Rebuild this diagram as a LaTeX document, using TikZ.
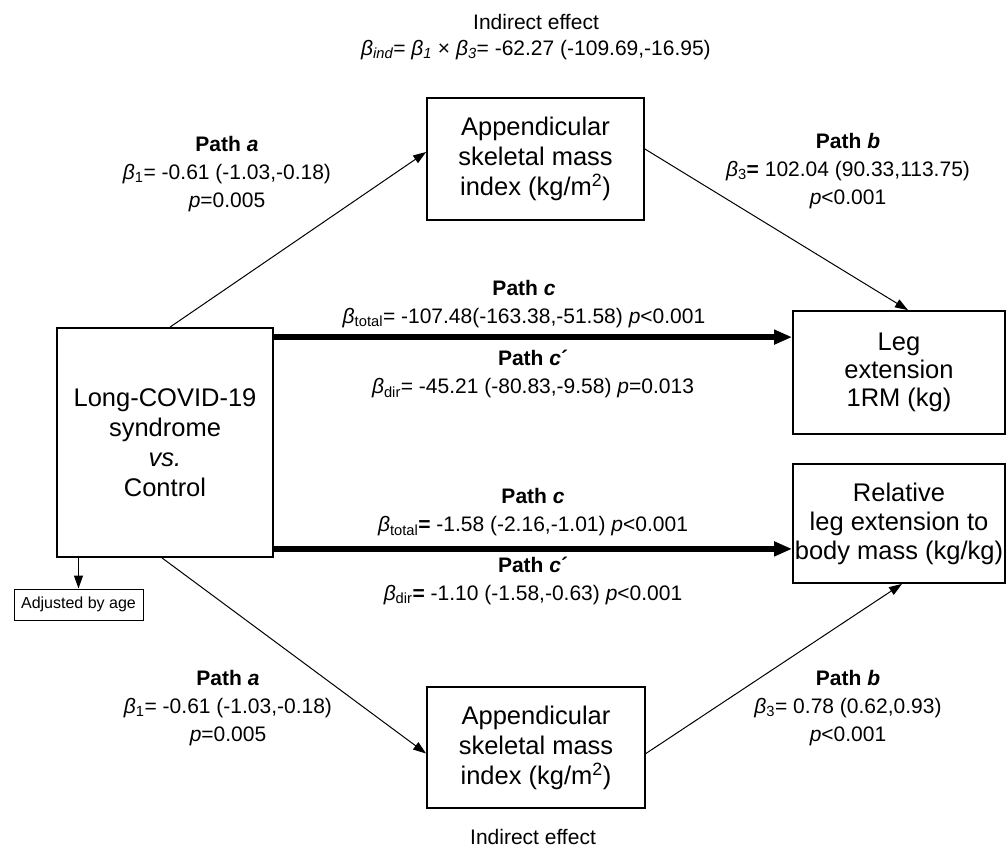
\documentclass[tikz,border=0pt]{standalone}
\usepackage{fontspec}
\setmainfont{Liberation Sans}
\usetikzlibrary{arrows.meta,calc}
\newcommand\bxfont{\fontsize{25.5}{30}\selectfont}
\newcommand\lbfont{\fontsize{21}{28}\selectfont}
\newcommand\ttlfont{\fontsize{21}{26}\selectfont}
\newcommand\smfont{\fontsize{16}{18}\selectfont}
\newcommand\bt{\textit{β}}
\begin{document}
\begin{tikzpicture}[x=1pt,y=-1pt,
  box/.style={draw, line width=1.8pt, fill=white, align=center, inner sep=0pt, font=\bxfont},
  lbl/.style={align=center, inner sep=0pt, font=\lbfont},
  conn/.style={-{Triangle[length=13pt,width=9pt]}, line width=1pt},
  bigarrow/.style={-{Triangle[length=18pt,width=14pt]}, line width=5.5pt}]
\useasboundingbox (0,0) rectangle (1008,849);

% boxes
\node[box, minimum width=217pt, minimum height=122pt] (asmiT) at (535.5,159) {Appendicular\\skeletal mass\\index (kg/m\textsuperscript{2})};
\node[box, minimum width=218pt, minimum height=121pt] (asmiB) at (536,747.5) {Appendicular\\skeletal mass\\index (kg/m\textsuperscript{2})};
\node[box, minimum width=216pt, minimum height=229pt] (left) at (165,442.5) {Long-COVID-19\\syndrome\\\textit{vs.}\\Control};
\node[box, minimum width=212pt, minimum height=123pt, font=\fontsize{25.5}{28}\selectfont] (leg) at (899,372.5) {Leg\\extension\\1RM (kg)};
\node[box, minimum width=212pt, minimum height=119pt, font=\fontsize{25.5}{29}\selectfont] (rel) at (899,523.5) {Relative\\leg extension to\\body mass (kg/kg)};
\node[draw, line width=1pt, inner sep=0pt, minimum width=129pt, minimum height=31pt, font=\smfont] (adj) at (78.5,604.5) {Adjusted by age};

% labels
\node[lbl, font=\ttlfont] (title) at (536,37) {Indirect effect\\\textit{β\textsubscript{ind}}= \textit{β\textsubscript{1}} × \textit{β\textsubscript{3}}= -62.27 (-109.69,-16.95)};
\node[lbl] (pathaT) at (227,174) {\textbf{Path \textit{a}}\\\bt\textsubscript{1}= -0.61 (-1.03,-0.18)\\\textit{p}=0.005};
\node[lbl] (pathbT) at (848,171) {\textbf{Path \textit{b}}\\\bt\textsubscript{3}\textbf{=} 102.04 (90.33,113.75)\\\textit{p}<0.001};
\node[lbl] (pc1) at (524,304) {\textbf{Path \textit{c}}\\\bt\textsubscript{total}= -107.48(-163.38,-51.58) \textit{p}<0.001};
\node[lbl] (pcp1) at (533,374) {\textbf{Path \textit{c}´}\\\bt\textsubscript{dir}= -45.21 (-80.83,-9.58) \textit{p}=0.013};
\node[lbl] (pc2) at (533,512.5) {\textbf{Path \textit{c}}\\\bt\textsubscript{total}\textbf{=} -1.58 (-2.16,-1.01) \textit{p}<0.001};
\node[lbl] (pcp2) at (533,580.5) {\textbf{Path \textit{c}´}\\\bt\textsubscript{dir}\textbf{=} -1.10 (-1.58,-0.63) \textit{p}<0.001};
\node[lbl] (pathaB) at (228,708) {\textbf{Path \textit{a}}\\\bt\textsubscript{1}= -0.61 (-1.03,-0.18)\\\textit{p}=0.005};
\node[lbl] (pathbB) at (848,708) {\textbf{Path \textit{b}}\\\bt\textsubscript{3}= 0.78 (0.62,0.93)\\\textit{p}<0.001};
\node[lbl] (bottitle) at (533,837) {Indirect effect};

% thick arrows
\coordinate (t1) at ($(left.north east)+(0,10)$);
\draw[bigarrow] (t1) -- (t1 -| leg.west);
\coordinate (t2) at ($(left.south east)+(0,-9)$);
\draw[bigarrow] (t2) -- (t2 -| rel.west);

% thin arrows
\draw[conn] ($(left.north)+(5,0)$) -- ($(asmiT.west)+(0,-7)$);
\draw[conn] ($(asmiT.east)+(0,-10)$) -- ($(leg.north)+(9,0)$);
\draw[conn] ($(left.south)+(-3,0)$) -- ($(asmiB.west)+(0,6)$);
\draw[conn] ($(asmiB.east)+(0,6)$) -- ($(rel.south)+(3,0)$);
\draw[conn] (adj.north |- left.south) -- (adj.north);
\end{tikzpicture}
\end{document}
